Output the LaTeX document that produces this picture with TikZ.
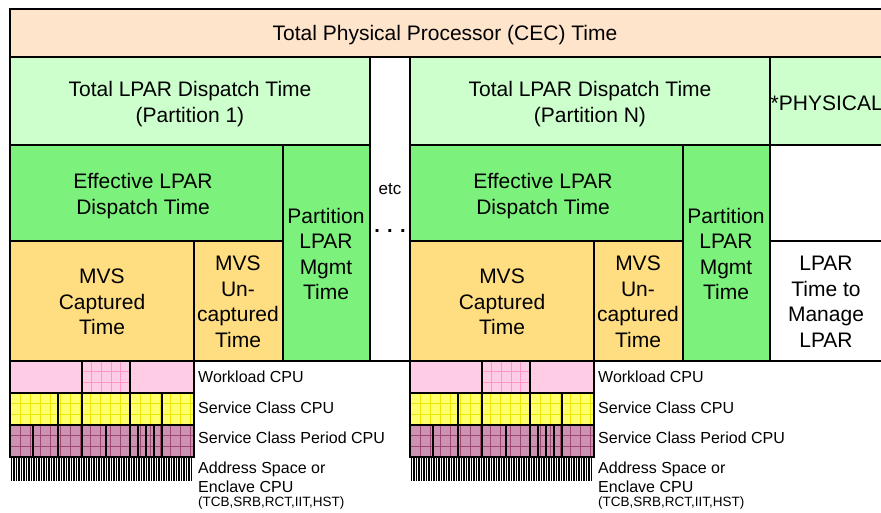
\documentclass[tikz,border=0pt]{standalone}
\usepackage{fontspec}
\setmainfont{Liberation Sans}
\definecolor{cecfill}{RGB}{255,228,204}
\definecolor{lparfill}{RGB}{204,255,204}
\definecolor{efffill}{RGB}{124,242,124}
\definecolor{mvsfill}{RGB}{255,222,130}
\definecolor{wklfill}{RGB}{255,204,230}
\definecolor{wklline}{RGB}{255,150,200}
\definecolor{scfill}{RGB}{255,255,110}
\definecolor{scline}{RGB}{232,232,0}
\definecolor{perfill}{RGB}{204,146,178}
\definecolor{perline}{RGB}{160,70,115}
\begin{document}
\begin{tikzpicture}[x=1pt,y=-1pt,>=stealth,
		cell/.style={draw=black,line width=1.3pt},
		txt/.style={align=center,inner sep=0pt,font=\fontsize{21}{25.5}\selectfont},
		lab/.style={anchor=west,inner sep=0pt,font=\fontsize{16}{19}\selectfont}]
	\useasboundingbox (0,0) rectangle (881,512);
	\fill[white] (0,0) rectangle (881,512);
	\clip (0,0) rectangle (881,512);
	\draw[cell,fill=cecfill] (10,9) rectangle (883,57);
	\node[txt] (cec) at (445,35) {Total Physical Processor (CEC) Time};
	\foreach \ox/\p in {0/1,400/N}{
		\begin{scope}[xshift=\ox pt]
			\draw[cell,fill=lparfill] (10,57) rectangle (370,145);
			\draw[cell,fill=efffill] (10,145) rectangle (283,241) (283,145) rectangle (370,361);
			\draw[cell,fill=mvsfill] (10,241) rectangle (194,361) (194,241) rectangle (283,361);
			\node[txt] (disp\p) at (190,104) {Total LPAR Dispatch Time\\(Partition \p)};
			\node[txt] (eff\p) at (143,196) {Effective LPAR\\Dispatch Time};
			\node[txt] (mgmt\p) at (326,254) {Partition\\LPAR\\Mgmt\\Time};
			\node[txt] (cap\p) at (102,302) {MVS\\Captured\\Time};
			\node[txt] (uncap\p) at (238,302) {MVS\\Un-\\captured\\Time};
			\fill[wklfill] (10,361) rectangle (194,393);
			\foreach \k in {1,...,4} \draw[wklline] ({82+9.6*\k},361) -- ++(0,32);
			\foreach \k in {1,2} \draw[wklline] (82,{361+32/3*\k}) -- (130,{361+32/3*\k});
			\fill[scfill] (10,393) rectangle (194,425);
			\foreach \k in {1,...,18} \draw[scline] ({10+10*\k},393) -- ++(0,32);
			\foreach \k in {1,2} \draw[scline] (10,{393+32/3*\k}) -- (194,{393+32/3*\k});
			\fill[perfill] (10,425) rectangle (194,457);
			\foreach \k in {1,...,18} \draw[perline] ({10+10*\k},425) -- ++(0,32);
			\foreach \k in {1,2} \draw[perline] (10,{425+32/3*\k}) -- (194,{425+32/3*\k});
			\draw[cell] (10,361) rectangle (194,457) (82,361) -- (82,393) (130,361) -- (130,393)
				(10,393) -- (194,393) (10,425) -- (194,425);
			\foreach \sx in {58,82,130,162} \draw[cell] (\sx,393) -- (\sx,425);
			\foreach \sx in {33,58,82,106,130,138,146,154,162} \draw[cell] (\sx,425) -- (\sx,457);
			\foreach \k [evaluate=\k as \lw using {0.7+0.5*mod(\k*7,4)}] in {0,...,72}
				\draw[line width=\lw pt] ({11.5+2.5*\k},457) -- ++(0,24);
			\node[lab] (wkl\p) at (198,377) {Workload CPU};
			\node[lab] (sc\p) at (198,408) {Service Class CPU};
			\node[lab] (per\p) at (198,438) {Service Class Period CPU};
			\node[lab,align=left] (as\p) at (198,477) {Address Space or\\Enclave CPU};
			\node[lab,font=\fontsize{13.5}{16}\selectfont] (tcb\p) at (198,503) {(TCB,SRB,RCT,IIT,HST)};
		\end{scope}
	}
	\draw[cell,fill=white] (370,57) rectangle (410,361);
	\node[inner sep=0pt,font=\fontsize{17}{20}\selectfont] (etc) at (390,189) {etc};
	\node[inner sep=0pt,font=\fontsize{20}{25}\selectfont\bfseries] (dots) at (390,231) {. . .};
	\draw[cell,fill=lparfill] (770,57) rectangle (883,145);
	\draw[cell,fill=white] (770,145) rectangle (883,241) (770,241) rectangle (883,361);
	\node[txt,anchor=west] (phys) at (770.5,103) {*PHYSICAL};
	\node[txt] (manage) at (826,302) {LPAR\\Time to\\Manage\\LPAR};
\end{tikzpicture}
\end{document}
